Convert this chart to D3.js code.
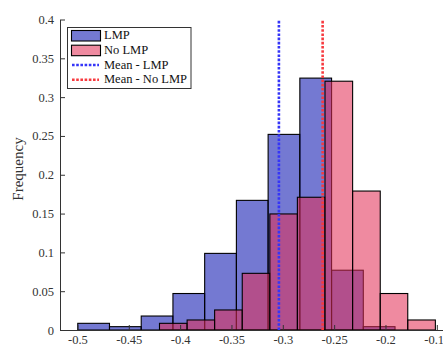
<!DOCTYPE html>
<html>
<head>
<meta charset="utf-8">
<script src="https://cdn.jsdelivr.net/npm/d3@7"></script>
<style>
  body { margin: 0; background: #fff; }
  svg { display: block; }
</style>
</head>
<body>
<svg id="chart" width="443" height="347"></svg>
<script>
// histogram bin edges and normalised counts
const lmpEdges = [-0.4997, -0.4688, -0.4379, -0.4070, -0.3761, -0.3452, -0.3143, -0.2834, -0.2525, -0.2216, -0.1907]
const lmpFreq = [0.0086, 0.0043, 0.018, 0.047, 0.0987, 0.167, 0.252, 0.3245, 0.077, 0.0043]

const noLmpEdges = [-0.4201, -0.3932, -0.3664, -0.3395, -0.3126, -0.2858, -0.2589, -0.2320, -0.2051, -0.1783, -0.1514]
const noLmpFreq = [0.0086, 0.0129, 0.0258, 0.073, 0.1495, 0.171, 0.3205, 0.179, 0.047, 0.0129]

const lmpMean = -0.3038
const noLmpMean = -0.2612

const xTicks = [-0.5, -0.45, -0.4, -0.35, -0.3, -0.25, -0.2, -0.15]
const yTicks = [0, 0.05, 0.1, 0.15, 0.2, 0.25, 0.3, 0.35, 0.4]
const legendLabels = ["LMP", "No LMP", "Mean - LMP", "Mean - No LMP"]

const serif = '"Liberation Serif", "DejaVu Serif", serif'
const svg = d3.select("#chart")
const margin = {top: 19.5, left: 60, bottom: 330, right: 444}

const xScale = d3.scaleLinear()
  .domain([-0.517, -0.143])
  .range([margin.left, margin.right])

const yScale = d3.scaleLinear()
  .domain([0, 0.4])
  .range([margin.bottom, margin.top])

function toBins(edges, freq) {
  return freq.map((f, i) => ({x0: edges[i], x1: edges[i + 1], f: f}))
}

const lmpBlue = "rgb(23,32,180)"
const noLmpRed = "rgb(227,46,86)"

function drawBars(bins, color, alpha) {
  svg.append("g")
    .selectAll("rect")
    .data(bins)
    .enter()
    .append("rect")
    .attr("x", d => xScale(d.x0))
    .attr("width", d => xScale(d.x1) - xScale(d.x0))
    .attr("y", d => yScale(d.f))
    .attr("height", d => yScale(0) - yScale(d.f))
    .style("fill", color)
    .style("fill-opacity", alpha)
    .style("stroke", "#000")
    .style("stroke-width", 1.1)
}

drawBars(toBins(lmpEdges, lmpFreq), lmpBlue, 0.6)
drawBars(toBins(noLmpEdges, noLmpFreq), noLmpRed, 0.56)

// mean lines
const means = [{v: lmpMean, c: "#3535f8"}, {v: noLmpMean, c: "#f73a3f"}]
svg.append("g")
  .selectAll("line")
  .data(means)
  .enter()
  .append("line")
  .attr("x1", d => xScale(d.v))
  .attr("x2", d => xScale(d.v))
  .attr("y1", yScale(0))
  .attr("y2", yScale(0.4))
  .style("stroke", d => d.c)
  .style("stroke-width", 2.6)
  .style("stroke-dasharray", "2.6,1.6")

// axes
const axisColor = "#333"
const yAxis = d3.axisLeft(yScale)
  .tickValues(yTicks)
  .tickFormat(d3.format("~g"))
  .tickSizeInner(-5)
  .tickSizeOuter(0)
  .tickPadding(6)

const xAxis = d3.axisBottom(xScale)
  .tickValues(xTicks)
  .tickFormat(d => d3.format("~g")(d).replace("\u2212", "-"))
  .tickSizeInner(-5)
  .tickSizeOuter(0)
  .tickPadding(5)

const gy = svg.append("g")
  .attr("transform", "translate(" + margin.left + ",0)")
  .call(yAxis)
  .attr("font-family", serif)
  .attr("font-size", 12.5)
gy.selectAll("text").attr("fill", axisColor)

const gx = svg.append("g")
  .attr("transform", "translate(0," + margin.bottom + ")")
  .call(xAxis)
  .attr("font-family", serif)
  .attr("font-size", 12.5)
gx.selectAll("text").attr("fill", axisColor)

svg.selectAll(".domain, .tick line").style("stroke", axisColor)

// y label
svg.append("text")
  .attr("transform", "translate(22.5,169) rotate(-90)")
  .attr("text-anchor", "middle")
  .attr("font-family", serif)
  .attr("font-size", 15)
  .attr("fill", axisColor)
  .text("Frequency")

// legend
const legend = svg.append("g")
legend.append("rect")
  .attr("x", 67.5).attr("y", 27.5)
  .attr("width", 123.5).attr("height", 61)
  .style("fill", "#fff")
  .style("stroke", axisColor)
  .style("stroke-width", 1)

const legendRows = [39.3, 54, 68.5, 83.3]
legend.selectAll("rect.patch")
  .data([{c: lmpBlue, a: 0.6}, {c: noLmpRed, a: 0.56}])
  .enter()
  .append("rect")
  .classed("patch", true)
  .attr("x", 71.5)
  .attr("y", (d, i) => legendRows[i] - 8.8)
  .attr("width", 29)
  .attr("height", 10.5)
  .style("fill", d => d.c)
  .style("fill-opacity", d => d.a)
  .style("stroke", "#000")
  .style("stroke-width", 1.1)

legend.selectAll("line")
  .data(means)
  .enter()
  .append("line")
  .attr("x1", 72).attr("x2", 99)
  .attr("y1", (d, i) => legendRows[i + 2] - 3.5)
  .attr("y2", (d, i) => legendRows[i + 2] - 3.5)
  .style("stroke", d => d.c)
  .style("stroke-width", 2.6)
  .style("stroke-dasharray", "2.6,1.6")

legend.selectAll("text")
  .data(legendLabels)
  .enter()
  .append("text")
  .attr("x", 104)
  .attr("y", (d, i) => legendRows[i])
  .attr("font-family", serif)
  .attr("font-size", 12.5)
  .attr("fill", "#111")
  .text(d => d)
</script>
</body>
</html>
